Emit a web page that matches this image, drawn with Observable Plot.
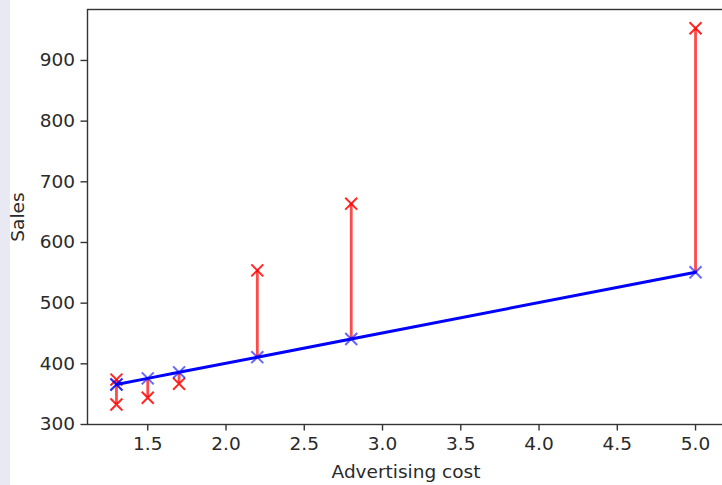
<!DOCTYPE html>
<html><head><meta charset="utf-8">
<script src="https://cdn.jsdelivr.net/npm/d3@7"></script>
<script src="https://cdn.jsdelivr.net/npm/@observablehq/plot@0.6"></script>
<style>body{margin:0;background:#fff} #chart svg{overflow:hidden}</style>
</head><body><div id="chart"></div>
<script>
const cost = [1.3, 1.3, 1.5, 1.7, 2.2, 2.8, 5.0];
const sales = [374, 333, 344, 367, 554, 664, 953];
const predicted = [366, 366, 376, 386, 411, 441, 551];
const xTicks = [1.5, 2.0, 2.5, 3.0, 3.5, 4.0, 4.5, 5.0];
const yTicks = [300, 400, 500, 600, 700, 800, 900];

const points = cost.map((c, i) => ({cost: c, sales: sales[i], pred: predicted[i]}));

const chart = Plot.plot({
  width: 722, height: 485,
  marginLeft: 87, marginRight: -2, marginTop: 9, marginBottom: 61,
  style: {fontFamily: "DejaVu Sans", fontSize: "18.5px", color: "#2a2a2a",
          background: "linear-gradient(to right, #e9e9f3 0 10px, #ffffff 10px)", overflow: "hidden"},
  x: {domain: [1.115, 5.185]},
  y: {domain: [300, 984]},
  marks: [
    Plot.axisX({ticks: xTicks, tickFormat: d => d.toFixed(1), tickSize: 6.5, tickPadding: 6,
      stroke: "#333", strokeWidth: 1.4, label: "Advertising cost", labelAnchor: "center",
      labelOffset: 53, labelArrow: "none"}),
    Plot.axisY({ticks: yTicks, tickSize: 6.5, tickPadding: 6,
      stroke: "#333", strokeWidth: 1.4, label: "Sales", labelAnchor: "center",
      labelOffset: 77, labelArrow: "none"}),
    Plot.ruleX(points, {x: "cost", y1: "pred", y2: "sales", stroke: "#ff2a2a", strokeOpacity: 0.85, strokeWidth: 2.8}),
    Plot.dot(points, {x: "cost", y: "sales", symbol: "times", r: 5.5, stroke: "red", strokeOpacity: 0.85, strokeWidth: 2}),
    Plot.line(points, {x: "cost", y: "pred", stroke: "blue", strokeWidth: 3}),
    Plot.dot(points, {x: "cost", y: "pred", symbol: "times", r: 5.5, stroke: "blue", strokeOpacity: 0.6, strokeWidth: 2}),
    Plot.frame({stroke: "#333", strokeWidth: 1.4})
  ]
});
document.getElementById("chart").append(chart);
</script>
</body></html>
